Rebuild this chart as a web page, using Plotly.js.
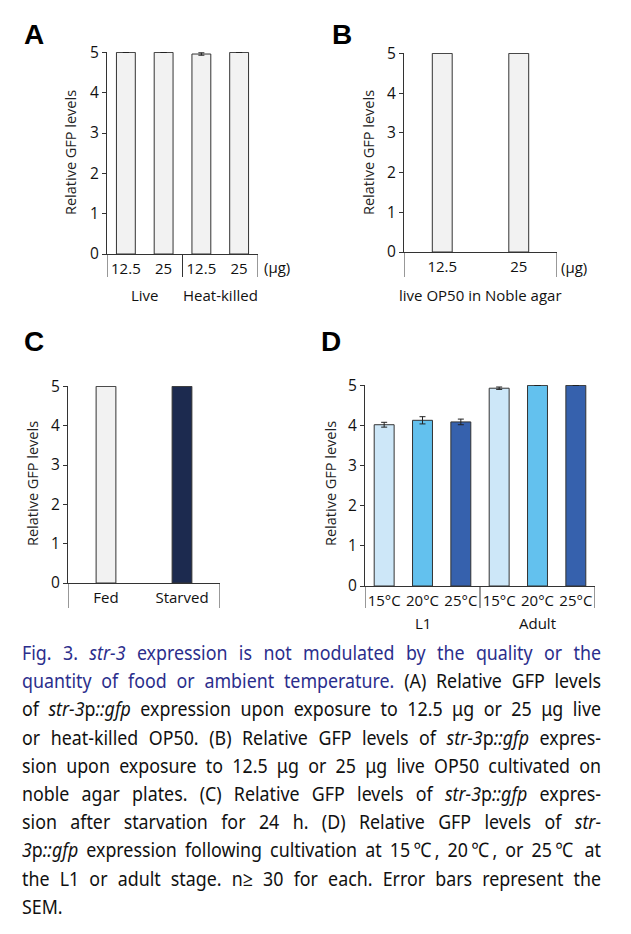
<!DOCTYPE html>
<html>
<head>
<meta charset="utf-8">
<script src="https://cdn.plot.ly/plotly-3.0.1.min.js"></script>
<style>
  body { margin: 0; background: #fff; }
  #wrap { position: relative; width: 631px; height: 934px; overflow: hidden; }
  #chart { position: absolute; left: 0; top: 0; width: 631px; height: 934px; }
  #caption { position: absolute; left: 22px; top: 639px; width: 650px;
             transform: scaleX(0.8908); transform-origin: 0 0;
             font-family: "Noto Sans", "Open Sans", sans-serif; font-size: 20px;
             color: #111; }
  #caption div { height: 28.2px; line-height: 28.2px; text-align: justify; text-align-last: justify; white-space: nowrap; }
  #caption div.last { text-align-last: left; }
  .blue { color: #2b2e8c; }
</style>
</head>
<body>
<div id="wrap">
<div id="chart"></div>
<div id="caption">
  <div class="blue">Fig. 3. <i>str-3</i> expression is not modulated by the quality or the</div>
  <div><span class="blue">quantity of food or ambient temperature.</span> (A) Relative GFP levels</div>
  <div>of <i>str-3</i>p<i>::gfp</i> expression upon exposure to 12.5 μg or 25 μg live</div>
  <div>or heat-killed OP50. (B) Relative GFP levels of <i>str-3</i>p<i>::gfp</i> expres-</div>
  <div>sion upon exposure to 12.5 μg or 25 μg live OP50 cultivated on</div>
  <div>noble agar plates. (C) Relative GFP levels of <i>str-3</i>p<i>::gfp</i> expres-</div>
  <div>sion after starvation for 24 h. (D) Relative GFP levels of <i>str-</i></div>
  <div><i>3</i>p<i>::gfp</i> expression following cultivation at 15℃, 20℃, or 25℃ at</div>
  <div>the L1 or adult stage. n≥ 30 for each. Error bars represent the</div>
  <div class="last">SEM.</div>
</div>
</div>
<script>
// panel A: live vs heat-killed OP50
const catsA = ['12.5', '25', '12.5', '25'];
const groupsA = ['Live', 'Heat-killed'];
const valsA = [5, 5, 4.96, 5];
const errA = [0, 0, 0.03, 0];

// panel B: live OP50 on noble agar
const catsB = ['12.5', '25'];
const valsB = [5, 5];

// panel C: fed vs starved
const catsC = ['Fed', 'Starved'];
const valsC = [5, 5];
const colorsC = ['#f2f2f2', '#1c2a4f'];

// panel D: temperature, L1 and adult
const catsD = ['15°C', '20°C', '25°C', '15°C', '20°C', '25°C'];
const groupsD = ['L1', 'Adult'];
const valsD = [4.02, 4.13, 4.09, 4.93, 5, 5];
const errD = [0.06, 0.09, 0.07, 0.03, 0, 0];
const colorsD = ['#cde7f8', '#63c1ee', '#3661ad', '#cde7f8', '#63c1ee', '#3661ad'];

const W = 631, H = 934;
const px = v => v / W;
const py = v => 1 - v / H;
const idx = arr => arr.map((_, i) => i);

const FONT = '"Open Sans", "Liberation Sans", sans-serif';
const gray = '#f2f2f2';
const edge = '#333333';
const errStyle = arr => ({type: 'data', array: arr, visible: true, color: '#222', thickness: 1, width: 3});

const data = [
  {type: 'bar', x: idx(catsA), y: valsA, error_y: errStyle(errA), width: 0.5,
   marker: {color: gray, line: {color: edge, width: 1}}, xaxis: 'x', yaxis: 'y'},
  {type: 'bar', x: idx(catsB), y: valsB, width: 0.26,
   marker: {color: gray, line: {color: edge, width: 1}}, xaxis: 'x2', yaxis: 'y2'},
  {type: 'bar', x: idx(catsC), y: valsC, width: 0.26,
   marker: {color: colorsC, line: {color: edge, width: 1}}, xaxis: 'x3', yaxis: 'y3'},
  {type: 'bar', x: idx(catsD), y: valsD, error_y: errStyle(errD), width: 0.52,
   marker: {color: colorsD, line: {color: edge, width: 1}}, xaxis: 'x4', yaxis: 'y4'}
];

function xax(x0, x1, cats, anchor) {
  return {domain: [px(x0), px(x1)], anchor: anchor, range: [-0.5, cats.length - 0.5],
          tickvals: idx(cats), ticktext: cats, ticks: '', showgrid: false, zeroline: false,
          showline: true, linecolor: '#333', linewidth: 1, ticklabelstandoff: 1,
          tickfont: {family: FONT, size: 15, color: '#111'}, fixedrange: true};
}
function yax(y0, y1, anchor) {
  return {domain: [py(y0), py(y1)], anchor: anchor, range: [0, 5.01], dtick: 1,
          ticks: 'outside', ticklen: 4, tickcolor: '#333', showgrid: false, zeroline: false,
          showline: true, linecolor: '#333', linewidth: 1,
          tickfont: {family: FONT, size: 15.5, color: '#111'}, fixedrange: true};
}

// divider lines under the x axes
function divider(xref, xv, y0, y1) {
  return {type: 'line', xref: xref, yref: 'paper', x0: xv, x1: xv, y0: py(y0), y1: py(y1),
          line: {color: '#333', width: 1}};
}
const shapes = [
  divider('x', -0.5, 254, 277), divider('x', 1.5, 254, 277), divider('x', 3.5, 254, 277),
  divider('x2', -0.5, 252, 277), divider('x2', 1.5, 252, 277),
  divider('x3', -0.5, 583, 608), divider('x3', 1.5, 583, 608),
  divider('x4', -0.5, 586, 608), divider('x4', 2.5, 586, 608), divider('x4', 5.5, 586, 608)
];

function txt(text, x, y, opts) {
  return Object.assign({text: text, xref: 'paper', yref: 'paper', x: px(x), y: py(y),
          xanchor: 'center', yanchor: 'middle', showarrow: false,
          font: {family: FONT, size: 15, color: '#111'}}, opts || {});
}
function ytitle(x, y) {
  return txt('Relative GFP levels', x, y, {textangle: -90, font: {family: FONT, size: 14.5, color: '#222'}});
}
function letter(t, x, y) {
  return txt(t, x, y, {font: {family: '"Liberation Sans", Arial, sans-serif', size: 28, color: '#000'}});
}

const annotations = [
  letter('<b>A</b>', 34, 34), letter('<b>B</b>', 342, 34),
  letter('<b>C</b>', 34, 341), letter('<b>D</b>', 331, 341),
  ytitle(70, 153), ytitle(368, 153), ytitle(32, 484), ytitle(330, 484),
  txt('(μg)', 277, 267), txt('(μg)', 574, 267),
  Object.assign(txt(groupsA[0], 0, 295), {xref: 'x', x: 0.5}),
  Object.assign(txt(groupsA[1], 0, 295), {xref: 'x', x: 2.5}),
  Object.assign(txt('live OP50 in Noble agar', 0, 295), {xref: 'x2', x: 0.5}),
  Object.assign(txt(groupsD[0], 0, 623), {xref: 'x4', x: 1}),
  Object.assign(txt(groupsD[1], 0, 623), {xref: 'x4', x: 4})
];

const layout = {
  width: W, height: H, margin: {l: 0, r: 0, t: 0, b: 0},
  paper_bgcolor: '#fff', plot_bgcolor: '#fff', showlegend: false,
  xaxis: xax(107, 258, catsA, 'y'), yaxis: yax(254, 52, 'x'),
  xaxis2: xax(404, 557, catsB, 'y2'), yaxis2: yax(252, 53, 'x2'),
  xaxis3: xax(68, 220, catsC, 'y3'), yaxis3: yax(583, 386, 'x3'),
  xaxis4: xax(365, 595, catsD, 'y4'), yaxis4: yax(586, 385, 'x4'),
  shapes: shapes, annotations: annotations
};

Plotly.newPlot('chart', data, layout, {displayModeBar: false, staticPlot: true});
</script>
</body>
</html>
